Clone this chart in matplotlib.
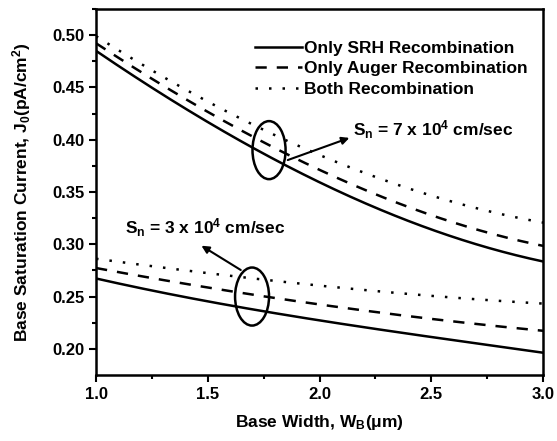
import numpy as np
import matplotlib
matplotlib.use('Agg')
import matplotlib.pyplot as plt
from matplotlib.patches import Ellipse

plt.rcParams['font.family'] = ['Liberation Sans', 'DejaVu Sans']
plt.rcParams['font.weight'] = 'bold'
plt.rcParams['mathtext.fontset'] = 'custom'
plt.rcParams['mathtext.rm'] = 'Liberation Sans:bold'
plt.rcParams['mathtext.bf'] = 'Liberation Sans:bold'
plt.rcParams['mathtext.it'] = 'Liberation Sans:bold'
plt.rcParams['mathtext.default'] = 'bf'

# base width in um
wb = [1.0, 1.25, 1.5, 1.75, 2.0, 2.25, 2.5, 2.75, 3.0]

# Sn = 7e4 cm/sec
srh_7 = [0.485, 0.449, 0.418, 0.387, 0.358, 0.335, 0.314, 0.298, 0.283]
auger_7 = [0.492, 0.458, 0.428, 0.397, 0.370, 0.348, 0.328, 0.312, 0.298]
both_7 = [0.498, 0.468, 0.437, 0.408, 0.385, 0.364, 0.347, 0.333, 0.320]

# Sn = 3e4 cm/sec
srh_3 = [0.267, 0.256, 0.246, 0.236, 0.226, 0.219, 0.212, 0.204, 0.196]
auger_3 = [0.277, 0.268, 0.259, 0.250, 0.242, 0.235, 0.229, 0.223, 0.217]
both_3 = [0.286, 0.279, 0.273, 0.266, 0.260, 0.255, 0.251, 0.247, 0.243]

labels = ['Only SRH Recombination', 'Only Auger Recombination', 'Both Recombination']
styles = ['-', (0, (4.5, 4)), (0, (1, 4.4))]

# smooth curves through the read points
x = np.linspace(1.0, 3.0, 200)
def smooth(y):
    c = np.polyfit(wb, y, 3)
    return np.polyval(c, x)

fig = plt.figure(figsize=(5.57, 4.41), dpi=100)
ax = fig.add_axes([0.1724, 0.1497, 0.8026, 0.83])

for y, ls, lab in zip([srh_7, auger_7, both_7], styles, labels):
    ax.plot(x, smooth(y), color='black', lw=1.8, linestyle=ls, label=lab)
for y, ls in zip([srh_3, auger_3, both_3], styles):
    ax.plot(x, smooth(y), color='black', lw=1.8, linestyle=ls)

ax.add_patch(Ellipse((1.774, 0.390), 0.148, 0.0555, fill=False, lw=1.8, color='black'))
ax.add_patch(Ellipse((1.698, 0.250), 0.152, 0.0555, fill=False, lw=1.8, color='black'))

ax.annotate('', xy=(2.145, 0.4026), xytext=(1.846, 0.3796),
            arrowprops=dict(arrowstyle='-|>', lw=1.5, color='black', mutation_scale=11))
ax.annotate('', xy=(1.461, 0.300), xytext=(1.658, 0.274),
            arrowprops=dict(arrowstyle='-|>', lw=1.5, color='black', mutation_scale=11))

ax.text(2.15, 0.410, r'S$_\mathregular{n}$ = 7 x 10$^\mathregular{4}$ cm/sec', fontsize=12.5,
        fontweight='bold', va='center', ha='left')
ax.text(1.13, 0.316, r'S$_\mathregular{n}$ = 3 x 10$^\mathregular{4}$ cm/sec', fontsize=12.5,
        fontweight='bold', va='center', ha='left')

ax.set_xlim(1.0, 3.0)
ax.set_ylim(0.175, 0.525)
ax.set_xticks([1.0, 1.5, 2.0, 2.5, 3.0])
ax.set_xticks(np.arange(1.25, 3.0, 0.5), minor=True)
ax.set_yticks([0.20, 0.25, 0.30, 0.35, 0.40, 0.45, 0.50])
ax.set_yticks(np.arange(0.225, 0.525, 0.05), minor=True)
ax.xaxis.set_major_formatter(matplotlib.ticker.FormatStrFormatter('%.1f'))
ax.yaxis.set_major_formatter(matplotlib.ticker.FormatStrFormatter('%.2f'))
ax.tick_params(which='major', direction='out', length=5, width=1.5, labelsize=12)
ax.tick_params(which='minor', direction='out', length=3, width=1.5)
for s in ax.spines.values():
    s.set_linewidth(1.8)

ax.set_xlabel(r'Base Width, W$_\mathregular{B}$($\mu$m)', fontsize=12.5, fontweight='bold', labelpad=8)
ax.set_ylabel(r'Base Saturation Current, J$_\mathregular{0}$(pA/cm$^\mathregular{2}$)', fontsize=12.5,
              fontweight='bold', labelpad=14)

ax.legend(loc='upper left', bbox_to_anchor=(0.356, 0.914), frameon=False, fontsize=12.5,
          handlelength=2.7, handletextpad=0.1, borderpad=0, borderaxespad=0, labelspacing=0.33)

fig.savefig('out.png', dpi=100)
